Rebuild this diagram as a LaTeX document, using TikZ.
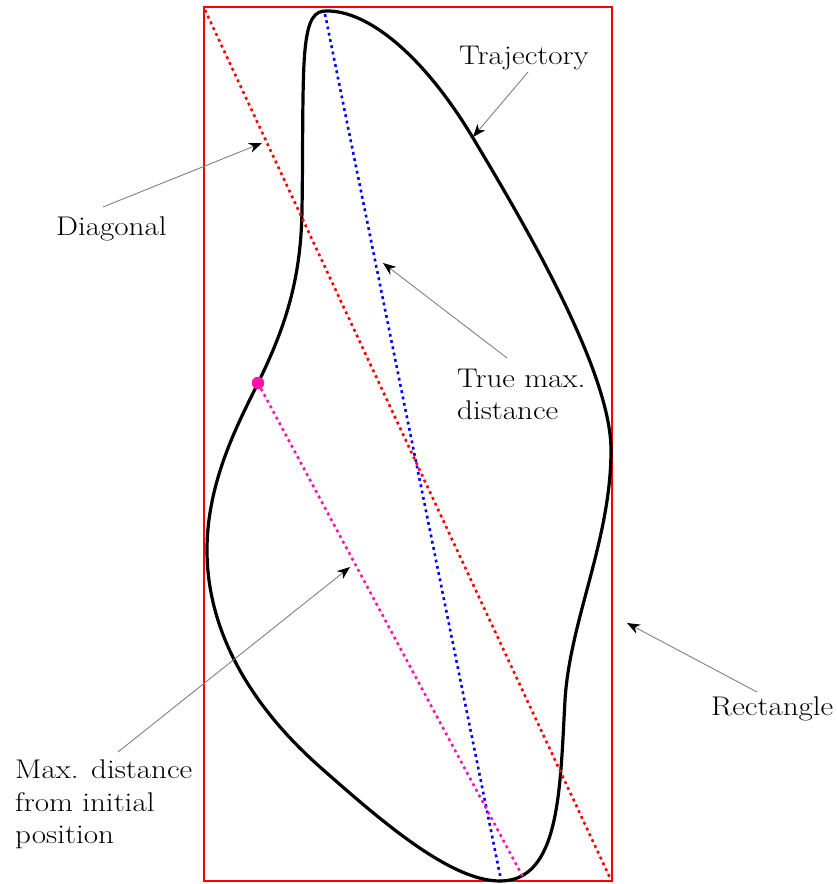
\documentclass[tikz,border=0pt]{standalone}
\usetikzlibrary{arrows.meta}
\definecolor{pinkish}{RGB}{255,20,170}
\newcommand{\sx}[1]{\scalebox{1.15}[1]{#1}}
\begin{document}
\begin{tikzpicture}[x=1pt,y=-1pt,
  lbl/.style={font=\fontsize{27}{32.5}\selectfont, inner sep=0pt},
  callout/.style={draw=black!50, line width=0.9pt, -{Stealth[black,length=13pt,width=10pt,inset=4pt]}},
  dotline/.style={line width=2.6pt, dash pattern=on 2.8pt off 3.6pt},
  traj/.style={line width=3.2pt, black, line join=round}]
\useasboundingbox (0,0) rectangle (836,884);
% rectangle
\draw[red, line width=2.6pt] (204,7) rectangle (612,881);
% trajectory
\draw[traj] (326,11) .. controls (368,10) and (424,56) .. (473,138)
  .. controls (522,220) and (611,370) .. (611,450)
  .. controls (611,540) and (570,620) .. (565,700)
  .. controls (560,790) and (560,881) .. (500,881)
  .. controls (450,881) and (380,820) .. (320,767)
  .. controls (260,714) and (207,640) .. (207,550)
  .. controls (207,480) and (240,420) .. (258,383)
  .. controls (285,328) and (301,280) .. (302,210)
  .. controls (303,150) and (302,80) .. (305,50)
  .. controls (308,18) and (315,11) .. cycle;
% lines
\coordinate (dA) at (205,10);
\coordinate (dB) at (611,880);
\draw[dotline, red] (dA) -- (dB);
\coordinate (tA) at (325,14);
\coordinate (tB) at (501,880);
\draw[dotline, blue] (tA) -- (tB);
\node[circle, fill=pinkish, inner sep=0pt, minimum size=12.5pt] (p0) at (258,383) {};
\coordinate (pB) at (523,877);
\draw[dotline, pinkish] (p0) -- (pB);
% labels
\node[lbl, anchor=base west] (ltraj) at (459,64) {\sx{Trajectory}};
\node[lbl, anchor=base west] (ldiag) at (56,235) {\sx{Diagonal}};
\node[lbl, align=left, anchor=north west] (ltrue) at (457,368.5) {\sx{True max.}\\\sx{distance}};
\node[lbl, align=left, anchor=north west] (lmax) at (15,760) {\sx{Max. distance}\\\sx{from initial}\\\sx{position}};
\node[lbl, anchor=base west] (lrect) at (711,715) {\sx{Rectangle}};
% callouts
\coordinate (c1s) at (528,72); \coordinate (c1e) at (473,137);
\coordinate (c2s) at (103,207); \coordinate (c2e) at (262,143);
\coordinate (c3s) at (507,358); \coordinate (c3e) at (383,263);
\coordinate (c4s) at (118,752); \coordinate (c4e) at (350,567);
\coordinate (c5s) at (757,692); \coordinate (c5e) at (627,623);
\draw[callout] (c1s) -- (c1e);
\draw[callout] (c2s) -- (c2e);
\draw[callout] (c3s) -- (c3e);
\draw[callout] (c4s) -- (c4e);
\draw[callout] (c5s) -- (c5e);
\end{tikzpicture}
\end{document}
